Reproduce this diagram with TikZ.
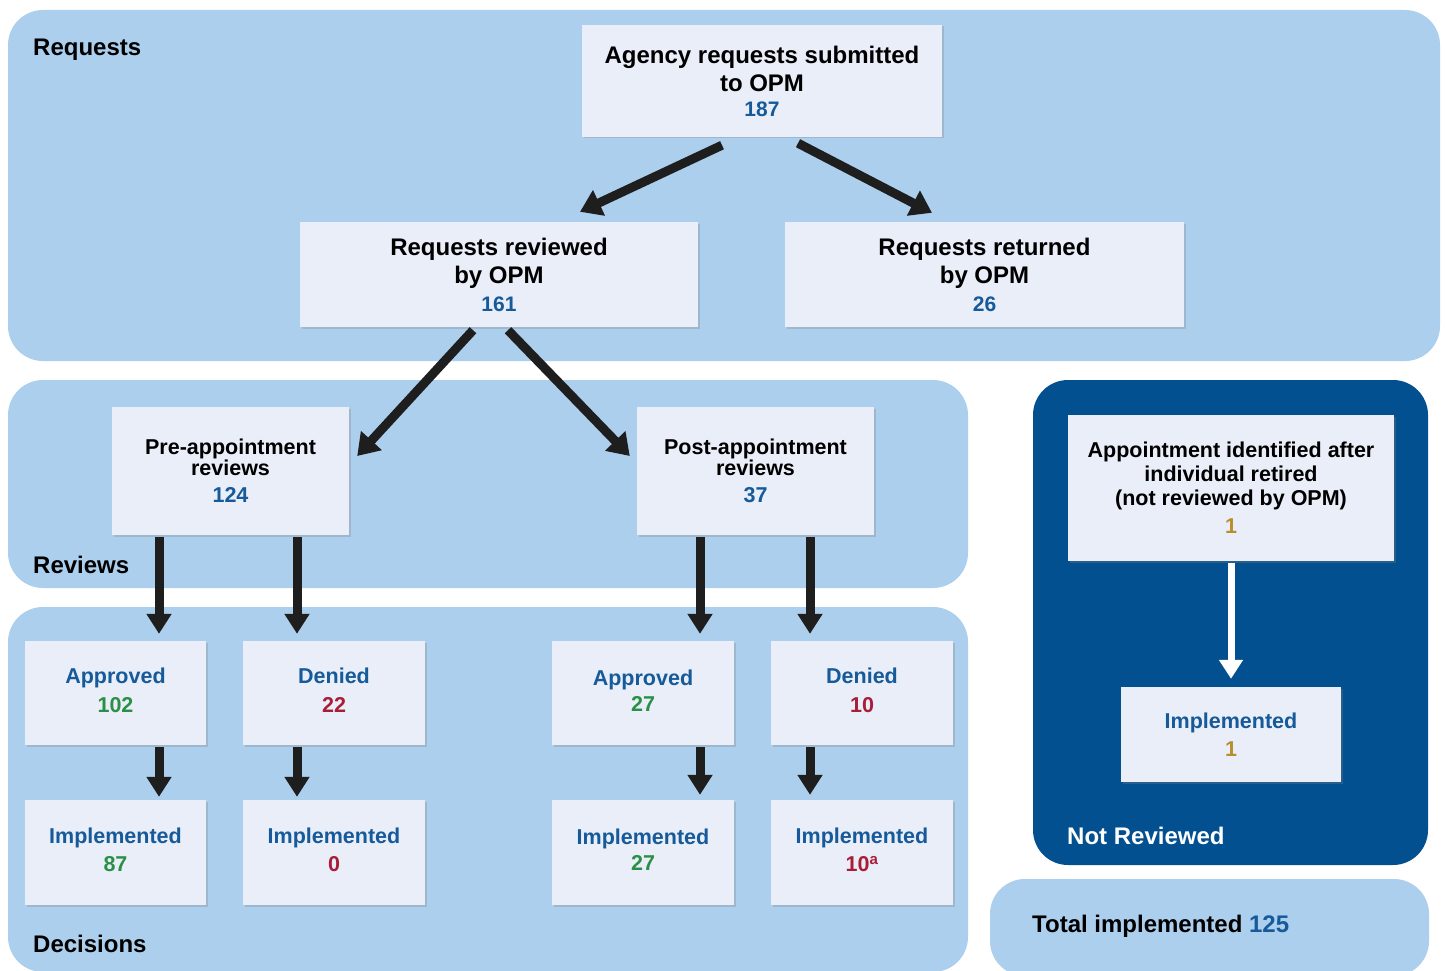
\documentclass[tikz,border=0pt]{standalone}
\usepackage{fontspec}
\setmainfont{Liberation Sans}
\usetikzlibrary{arrows.meta,shadows}
\definecolor{panel}{HTML}{ACCFEE}
\definecolor{dpanel}{HTML}{02508F}
\definecolor{boxfill}{HTML}{E9EEF8}
\definecolor{numblue}{HTML}{165A99}
\definecolor{numgreen}{HTML}{2A8F47}
\definecolor{numred}{HTML}{A81E36}
\definecolor{numgold}{HTML}{B88E2E}
\definecolor{arrowblack}{HTML}{1E1E1E}
\newcommand{\lowpad}{\rule[-5pt]{0pt}{5pt}}
\begin{document}
\begin{tikzpicture}[x=1pt,y=-1pt,
  panelbg/.style={fill=panel, rounded corners=35pt},
  darkpanel/.style={fill=dpanel, rounded corners=35pt},
  box/.style={fill=boxfill, inner sep=0pt, align=center,
    drop shadow={shadow xshift=1.5pt, shadow yshift=-1.5pt, opacity=0.3, fill=gray}},
  bigtext/.style={font=\bfseries\fontsize{24}{28}\selectfont},
  midtext/.style={font=\bfseries\fontsize{21.5}{21}\selectfont},
  smalltext/.style={font=\bfseries\fontsize{21.5}{29}\selectfont},
  paneltitle/.style={font=\bfseries\fontsize{24}{28}\selectfont, anchor=base west, inner sep=0pt},
  flow/.style={draw=arrowblack, line width=9pt, -{Triangle[width=27pt,length=21pt]}},
  vflow/.style={draw=arrowblack, line width=9pt, -{Triangle[width=24pt,length=20pt]}},
  wflow/.style={draw=white, line width=7pt, -{Triangle[width=23pt,length=19pt]}}
]
\useasboundingbox (0,0) rectangle (1445,971);
\fill[white] (0,0) rectangle (1445,971);
\begin{scope}
\clip (0,0) rectangle (1445,971);
% panels
\fill[panelbg] (8,10) rectangle (1440,361);
\fill[panelbg] (8,380) rectangle (968,588);
\fill[panelbg] (8,607) rectangle (968,972);
\fill[darkpanel] (1033,380) rectangle (1428,865);
\fill[panelbg] (990,879) rectangle (1429,976);
\end{scope}

% panel titles
\node[paneltitle] (tReq) at (33,56) {Requests};
\node[paneltitle] (tRev) at (33,573) {Reviews};
\node[paneltitle] (tDec) at (33,952) {Decisions};
\node[paneltitle, text=white] (tNot) at (1067,844) {Not Reviewed};
\node[paneltitle] (tTot) at (1032,932) {Total implemented \textcolor{numblue}{125}};

% boxes
\node[box, bigtext, minimum width=360pt, minimum height=112pt] (agency) at (762,81)
  {Agency requests submitted\\to OPM\\[-3pt]{\fontsize{21}{24}\selectfont\textcolor{numblue}{187}}};
\node[box, bigtext, minimum width=398pt, minimum height=105pt] (reviewed) at (499,274.5)
  {Requests reviewed\\by OPM\\[0pt]{\fontsize{21}{24}\selectfont\textcolor{numblue}{161}}};
\node[box, bigtext, minimum width=399pt, minimum height=105pt] (returned) at (984.5,274.5)
  {Requests returned\\by OPM\\[0pt]{\fontsize{21}{24}\selectfont\textcolor{numblue}{26}}};
\node[box, midtext, minimum width=237pt, minimum height=128pt] (pre) at (230.5,471)
  {Pre-appointment\\reviews\\[6pt]\textcolor{numblue}{124}};
\node[box, midtext, minimum width=237pt, minimum height=128pt] (post) at (755.5,471)
  {Post-appointment\\reviews\\[6pt]\textcolor{numblue}{37}};

\node[box, smalltext, text=numblue, minimum width=181pt, minimum height=104pt] (app1) at (115.5,693)
  {Approved\\\textcolor{numgreen}{102}\lowpad};
\node[box, smalltext, text=numblue, minimum width=182pt, minimum height=104pt] (den1) at (334,693)
  {Denied\\\textcolor{numred}{22}\lowpad};
\node[box, smalltext, text=numblue, minimum width=181pt, minimum height=105pt] (imp1) at (115.5,852.5)
  {Implemented\\[-1pt]\textcolor{numgreen}{87}\lowpad};
\node[box, smalltext, text=numblue, minimum width=182pt, minimum height=105pt] (imp2) at (334,852.5)
  {Implemented\\[-1pt]\textcolor{numred}{0}\lowpad};

\node[box, smalltext, text=numblue, minimum width=182pt, minimum height=104pt] (app2) at (643,693)
  {Approved\\[-3pt]\textcolor{numgreen}{27}\lowpad};
\node[box, smalltext, text=numblue, minimum width=182pt, minimum height=104pt] (den2) at (862,693)
  {Denied\\\textcolor{numred}{10}\lowpad};
\node[box, smalltext, text=numblue, minimum width=182pt, minimum height=105pt] (imp3) at (643,852.5)
  {Implemented\\[-3pt]\textcolor{numgreen}{27}\lowpad};
\node[box, smalltext, text=numblue, minimum width=182pt, minimum height=105pt] (imp4) at (862,852.5)
  {Implemented\\[-1pt]\textcolor{numred}{10\textsuperscript{a}}\lowpad};

\node[box, font=\bfseries\fontsize{21.5}{24}\selectfont, minimum width=326pt, minimum height=146pt] (appt) at (1231,488)
  {Appointment identified after\\individual retired\\(not reviewed by OPM)\\[4pt]\textcolor{numgold}{1}};
\node[box, smalltext, text=numblue, minimum width=220pt, minimum height=95pt] (imp5) at (1231,734.5)
  {Implemented\\[-1pt]\textcolor{numgold}{1}};

% connectors
\draw[flow] ([xshift=-40pt,yshift=-8pt]agency.south) -- ([xshift=81pt,yshift=10pt]reviewed.north);
\draw[flow] ([xshift=36pt,yshift=-6pt]agency.south) -- ([xshift=-52.5pt,yshift=9pt]returned.north);
\draw[flow] ([xshift=-26pt,yshift=-3pt]reviewed.south) -- ([xshift=8pt,yshift=15pt]pre.east);
\draw[flow] ([xshift=9pt,yshift=-3pt]reviewed.south) -- ([xshift=-7pt,yshift=15pt]post.west);

\draw[vflow] ([xshift=-71.5pt,yshift=-2pt]pre.south) -- ([xshift=43.5pt,yshift=7pt]app1.north);
\draw[vflow] ([xshift=66.5pt,yshift=-2pt]pre.south) -- ([xshift=-37pt,yshift=7pt]den1.north);
\draw[vflow] ([xshift=-55.5pt,yshift=-2pt]post.south) -- ([xshift=57pt,yshift=7pt]app2.north);
\draw[vflow] ([xshift=54.5pt,yshift=-2pt]post.south) -- ([xshift=-52pt,yshift=7pt]den2.north);

\draw[vflow] ([xshift=43.5pt,yshift=-2pt]app1.south) -- ([xshift=43.5pt,yshift=3pt]imp1.north);
\draw[vflow] ([xshift=-37pt,yshift=-2pt]den1.south) -- ([xshift=-37pt,yshift=3pt]imp2.north);
\draw[vflow] ([xshift=57pt,yshift=-2pt]app2.south) -- ([xshift=57pt,yshift=5pt]imp3.north);
\draw[vflow] ([xshift=-52pt,yshift=-2pt]den2.south) -- ([xshift=-52pt,yshift=5pt]imp4.north);

\draw[wflow] ([yshift=-2pt]appt.south) -- ([yshift=8pt]imp5.north);
\end{tikzpicture}
\end{document}
